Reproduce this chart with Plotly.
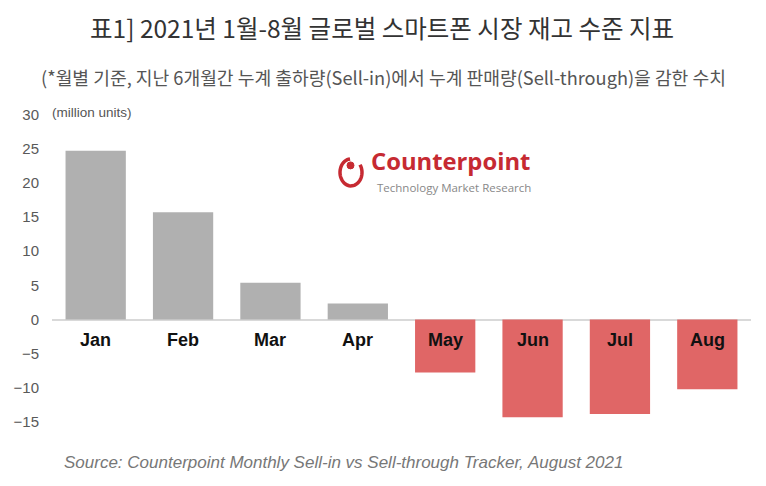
import math
import plotly.graph_objects as go

months = ["Jan", "Feb", "Mar", "Apr", "May", "Jun", "Jul", "Aug"]
values = [24.7, 15.7, 5.4, 2.35, -7.75, -14.3, -13.8, -10.2]
tick_vals = [-15, -10, -5, 0, 5, 10, 15, 20, 25, 30]

title = "표1] 2021년 1월-8월 글로벌 스마트폰 시장 재고 수준 지표"
subtitle = "(*월별 기준, 지난 6개월간 누계 출하량(Sell-in)에서 누계 판매량(Sell-through)을 감한 수치"
source = "Source: Counterpoint Monthly Sell-in vs Sell-through Tracker, August 2021"

colors = ["#b0b0b0" if v >= 0 else "#e06666" for v in values]

W, H = 766, 486
OFF = 8  # page body margin offset
L_s, T_s = 52, 110.6  # plot area left/top on screen
pw, ph = 699, 318
L, T = L_s - OFF, T_s - OFF
R = W - L - pw
B = H - T - ph

def px(x):
    return (x - L_s) / pw

def py(y):
    return (T_s + ph - y) / ph

fig = go.Figure()
fig.add_trace(go.Bar(x=months, y=values, marker=dict(color=colors, line=dict(width=0)),
                     hoverinfo="skip"))

annotations = []
for m in months:
    annotations.append(dict(x=m, y=-3.05, xref="x", yref="y", text="<b>%s</b>" % m,
                            showarrow=False, font=dict(family="Liberation Sans, Arial", size=18, color="#111111")))

annotations += [
    dict(x=px(382), y=py(27), xref="paper", yref="paper", text=title, showarrow=False,
         xanchor="center", yanchor="middle",
         font=dict(family="Noto Sans CJK KR", size=24.5, color="#333333")),
    dict(x=px(383), y=py(77), xref="paper", yref="paper", text=subtitle, showarrow=False,
         xanchor="center", yanchor="middle",
         font=dict(family="Noto Sans CJK KR", size=18.2, color="#555555")),
    dict(x=px(50), y=py(112), xref="paper", yref="paper", text="(million units)", showarrow=False,
         xanchor="left", yanchor="middle",
         font=dict(family="Liberation Sans, Arial", size=13.5, color="#555555")),
    dict(x=px(369), y=py(161), xref="paper", yref="paper", text="<b>Counterpoint</b>", showarrow=False,
         xanchor="left", yanchor="middle",
         font=dict(family="Open Sans", size=23.8, color="#c62a32")),
    dict(x=px(375), y=py(187), xref="paper", yref="paper", text="Technology Market Research", showarrow=False,
         xanchor="left", yanchor="middle",
         font=dict(family="Open Sans", size=11.5, color="#888888")),
    dict(x=px(62), y=py(462), xref="paper", yref="paper", text="<i>%s</i>" % source, showarrow=False,
         xanchor="left", yanchor="middle",
         font=dict(family="Liberation Sans, Arial", size=17, color="#777777")),
]

# logo ring: open arc (gap at top-right)
cx, cy, rx, ry = 351, 172, 11, 13.5
pts = []
for i in range(0, 41):
    a = math.radians(95 + i * (300 / 40))
    pts.append((px(cx + rx * math.cos(a)), py(cy - ry * math.sin(a))))
path = "M " + " L ".join("%.5f,%.5f" % p for p in pts)

shapes = [
    dict(type="path", xref="paper", yref="paper", path=path,
         line=dict(color="#c62a32", width=3.5)),
    dict(type="circle", xref="paper", yref="paper",
         x0=px(347), x1=px(354), y0=py(168.5), y1=py(161.5),
         line=dict(color="#c62a32", width=1), fillcolor="#c62a32"),
]

fig.update_layout(
    width=W, height=H,
    margin=dict(l=L, r=R, t=T, b=B, autoexpand=False),
    paper_bgcolor="white", plot_bgcolor="white",
    showlegend=False,
    bargap=0.31,
    annotations=annotations,
    shapes=shapes,
    xaxis=dict(showticklabels=False, showgrid=False, zeroline=False, showline=False, ticks="",
               automargin=False),
    yaxis=dict(range=[-16, 30.5], tickvals=tick_vals, showgrid=False, automargin=False,
               zeroline=True, zerolinecolor="#d9d9d9", zerolinewidth=1.5,
               showline=False, ticks="", ticklabelstandoff=12,
               tickfont=dict(family="Liberation Sans, Arial", size=15, color="#595959")),
)

fig.write_html("out.html")
